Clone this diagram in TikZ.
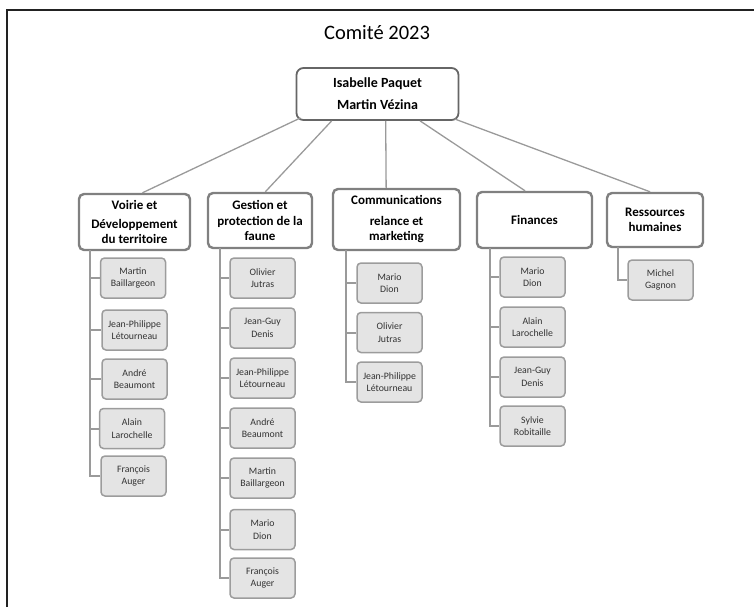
\documentclass[tikz,border=0pt]{standalone}
\usepackage{fontspec}
\setmainfont{Carlito}
\usetikzlibrary{calc,shadows}
\definecolor{framec}{HTML}{222222}
\definecolor{linec}{HTML}{9A9A9A}
\definecolor{lvlc}{HTML}{808080}
\definecolor{topc}{HTML}{666666}
\definecolor{memfill}{HTML}{E4E4E4}
\definecolor{memdraw}{HTML}{9C9C9C}
\definecolor{memtext}{HTML}{333333}
\tikzset{
  topbox/.style={draw=topc, line width=1.8pt, rounded corners=7pt, fill=white, align=center,
    minimum width=162pt, minimum height=52pt, inner sep=0pt,
    font=\bfseries\fontsize{14}{16}\selectfont},
  lvlbox/.style={draw=lvlc, line width=2.4pt, rounded corners=5pt, fill=white, align=center,
    inner sep=0pt, font=\bfseries\fontsize{13}{15.5}\selectfont,
    drop shadow={shadow xshift=0.8pt, shadow yshift=-0.8pt, opacity=0.25}},
  membox/.style={draw=memdraw, line width=1.5pt, rounded corners=4pt, fill=memfill, align=center,
    minimum width=65pt, minimum height=40pt, inner sep=0pt, text=memtext,
    font=\fontsize{9.8}{12.5}\selectfont},
  conn/.style={draw=linec, line width=1.3pt},
  trunk/.style={draw=linec, line width=2pt},
}
\begin{document}
\begin{tikzpicture}[x=1pt,y=-1pt]
\useasboundingbox (0,0) rectangle (754,607);
% frame
\draw[framec, line width=2.4pt] (7,607) -- (7,10) -- (754,10);
% title
\node[font=\fontsize{20.5}{24}\selectfont] (title) at (377,33) {Comité 2023};
% top
\node[topbox] (top) at (377.5,94) {Isabelle Paquet\\[6pt]Martin Vézina};
% level 2
\node[lvlbox, minimum width=111pt, minimum height=56pt] (V) at (134.5,222) {Voirie et\\[3pt]Développement\\du territoire};
\node[lvlbox, minimum width=104pt, minimum height=55pt] (G) at (260,220.5) {Gestion et\\protection de la\\faune};
\node[lvlbox, minimum width=127pt, minimum height=61pt] (C) at (396.5,219.5) {Communications\\[5pt]relance et\\marketing};
\node[lvlbox, minimum width=115pt, minimum height=56pt] (F) at (534.5,220) {Finances};
\node[lvlbox, minimum width=96pt, minimum height=54pt] (R) at (655,220) {Ressources\\humaines};
% connectors from top
\draw[conn] ($(top.south west)!0.03!(top.south east)+(0,-3)$) -- ($(V.north west)!0.57!(V.north east)$);
\draw[conn] ($(top.south west)!0.22!(top.south east)$) -- ($(G.north west)!0.55!(G.north east)$);
\draw[conn] ($(top.south west)!0.55!(top.south east)$) -- ($(C.north west)!0.42!(C.north east)$);
\draw[conn] ($(top.south west)!0.76!(top.south east)$) -- ($(F.north west)!0.42!(F.north east)$);
\draw[conn] ($(top.south west)!0.97!(top.south east)+(0,-2)$) -- ($(R.north west)!0.45!(R.north east)$);
% Voirie members
\node[membox] (v1) at (133,278) {Martin\\Baillargeon};
\node[membox] (v2) at (134.5,330) {Jean-Philippe\\Létourneau};
\node[membox] (v3) at (134.5,379) {André\\Beaumont};
\node[membox] (v4) at (132,428.5) {Alain\\Larochelle};
\node[membox] (v5) at (133.5,476) {François\\Auger};
\coordinate (Vt) at (90,250);
\foreach \m in {v1,v2,v3,v4,v5} \draw[trunk] (Vt) |- (\m.west);
% Gestion members
\node[membox] (g1) at (262.5,278) {Olivier\\Jutras};
\node[membox] (g2) at (262.5,328) {Jean-Guy\\Denis};
\node[membox] (g3) at (262.5,378) {Jean-Philippe\\Létourneau};
\node[membox] (g4) at (262.5,428) {André\\Beaumont};
\node[membox] (g5) at (262.5,478) {Martin\\Baillargeon};
\node[membox] (g6) at (262.5,529.5) {Mario\\Dion};
\node[membox] (g7) at (262.5,578) {François\\Auger};
\coordinate (Gt) at (220,248);
\foreach \m in {g1,g2,g3,g4,g5,g6,g7} \draw[trunk] (Gt) |- (\m.west);
% Communications members
\node[membox] (c1) at (389.5,283) {Mario\\Dion};
\node[membox] (c2) at (389.5,332.5) {Olivier\\Jutras};
\node[membox] (c3) at (389.5,382) {Jean-Philippe\\Létourneau};
\coordinate (Ct) at (346,250);
\foreach \m in {c1,c2,c3} \draw[trunk] (Ct) |- (\m.west);
% Finances members
\node[membox] (f1) at (532.5,277) {Mario\\Dion};
\node[membox] (f2) at (532.5,327) {Alain\\Larochelle};
\node[membox] (f3) at (532.5,377) {Jean-Guy\\Denis};
\node[membox] (f4) at (532.5,426) {Sylvie\\Robitaille};
\coordinate (Ft) at (490,248);
\foreach \m in {f1,f2,f3,f4} \draw[trunk] (Ft) |- (\m.west);
% Ressources members
\node[membox] (r1) at (660.5,280) {Michel\\Gagnon};
\coordinate (Rt) at (618,247);
\draw[trunk] (Rt) |- (r1.west);
\end{tikzpicture}
\end{document}
